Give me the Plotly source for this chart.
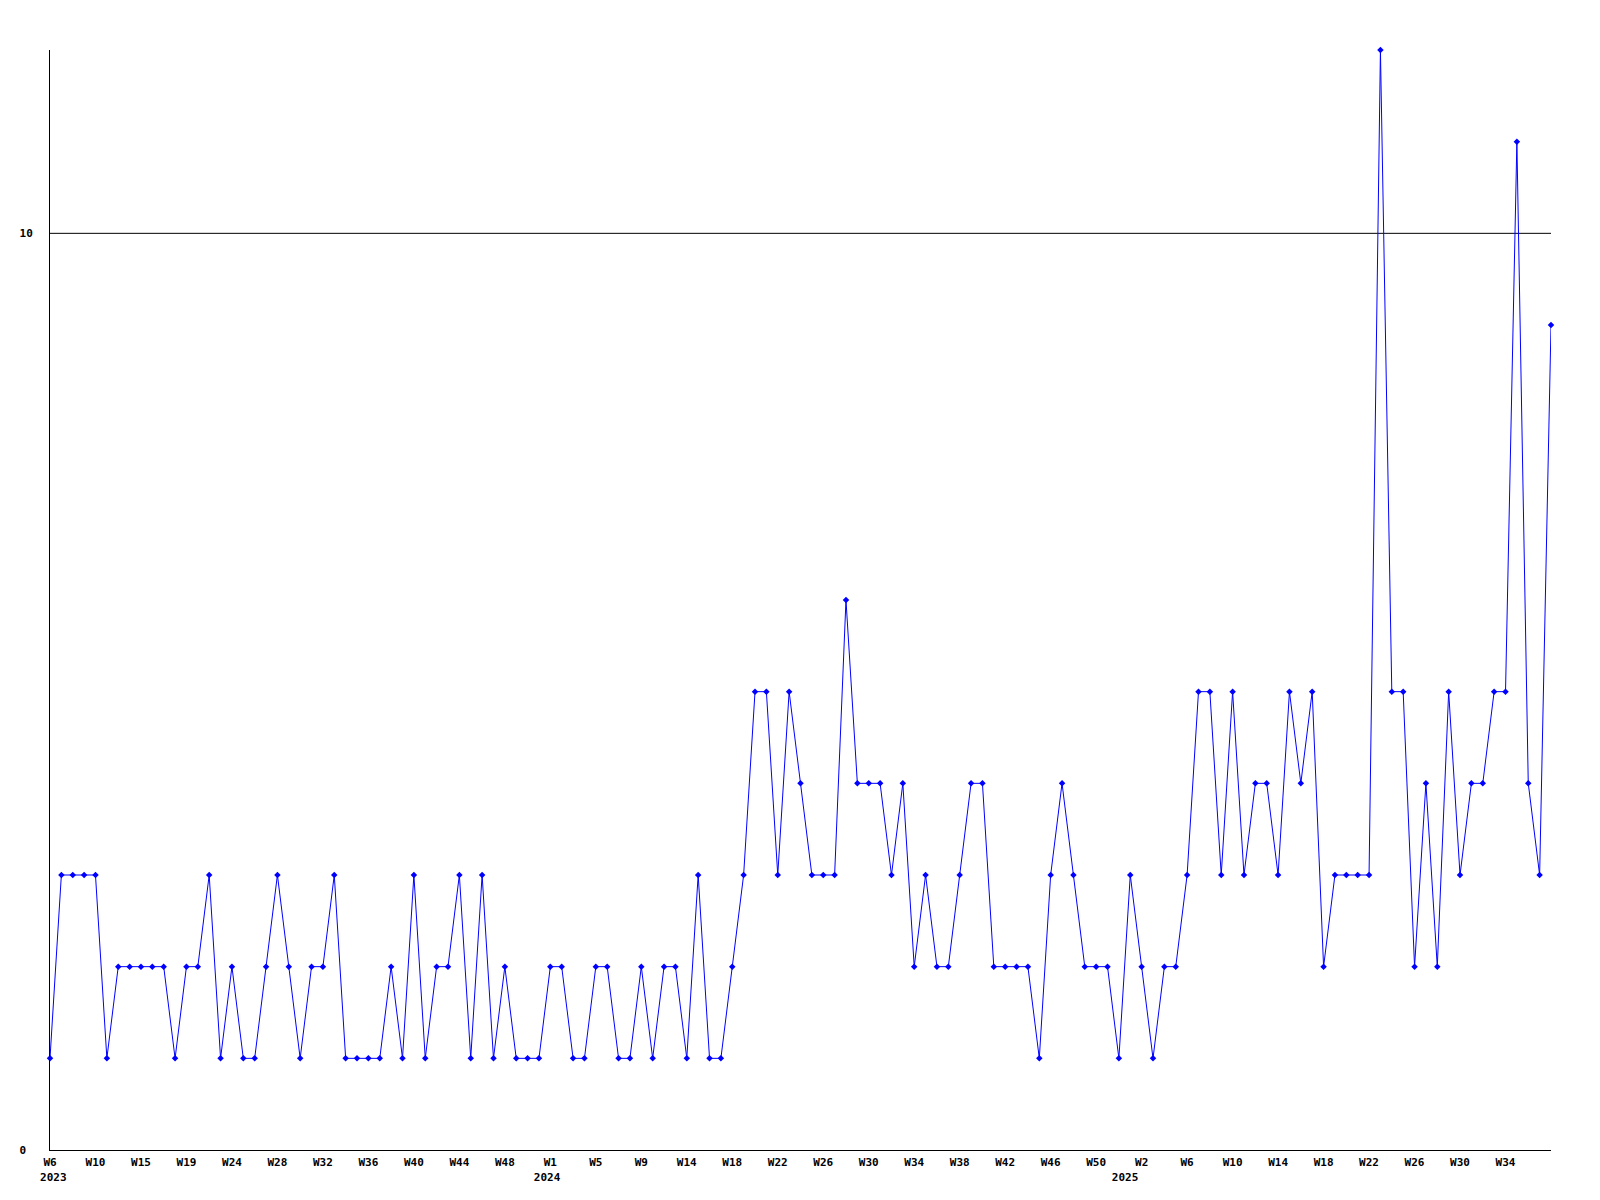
import plotly.graph_objects as go

values = [1,3,3,3,3,1,2,2,2,2,2,1,2,2,3,1,2,1,1,2,3,2,1,2,2,3,1,1,1,1,2,1,3,1,2,2,3,1,3,1,2,1,1,1,2,
          2,1,1,2,2,1,1,2,1,2,2,1,3,1,1,2,3,5,5,3,5,4,3,3,3,6,4,4,4,3,4,2,3,2,2,3,4,4,2,2,2,2,1,3,4,
          3,2,2,2,1,3,2,1,2,2,3,5,5,3,5,3,4,4,3,5,4,5,2,3,3,3,3,12,5,5,2,4,2,5,3,4,4,5,5,11,4,3,9]

NB = "\u00a0"
tick_labels = ["W6<br>" + NB + "2023", "W10", "W15", "W19", "W24", "W28", "W32", "W36", "W40", "W44", "W48",
               "W1<br>2024" + NB, "W5", "W9", "W14", "W18", "W22", "W26", "W30", "W34", "W38", "W42", "W46", "W50",
               "W2<br>2025" + NB * 5, "W6", "W10", "W14", "W18", "W22", "W26", "W30", "W34"]
tick_step = 4

x = list(range(len(values)))
tickvals = [i * tick_step for i in range(len(tick_labels))]

font = dict(family="DejaVu Sans Mono", size=11, color="#000000", weight="bold")

fig = go.Figure()
fig.add_trace(go.Scatter(
    x=x, y=values, mode="lines+markers",
    line=dict(color="#0000ff", width=1),
    marker=dict(symbol="diamond", size=5, color="#0000ff"),
    cliponaxis=False, hoverinfo="y",
))

fig.update_layout(
    width=1600, height=1200,
    margin=dict(l=42, r=57, t=42, b=58),
    paper_bgcolor="white", plot_bgcolor="white",
    showlegend=False,
    font=font,
    xaxis=dict(
        range=[0, len(values) - 1], showgrid=False, zeroline=False,
        showline=True, linecolor="#000000", linewidth=1,
        tickmode="array", tickvals=tickvals, ticktext=tick_labels,
        ticks="", tickfont=font, ticklabelstandoff=2, tickangle=0,
    ),
    yaxis=dict(
        range=[0, 12], showgrid=False, zeroline=False,
        showline=True, linecolor="#000000", linewidth=1,
        tickmode="array", tickvals=[0, 10], ticktext=["0" + NB, "10"],
        ticks="", tickfont=font, ticklabelstandoff=14,
    ),
    shapes=[dict(type="line", xref="paper", x0=0, x1=1, yref="y", y0=10, y1=10,
                 line=dict(color="#000000", width=1), layer="below")],
)

fig.write_html("out.html")
